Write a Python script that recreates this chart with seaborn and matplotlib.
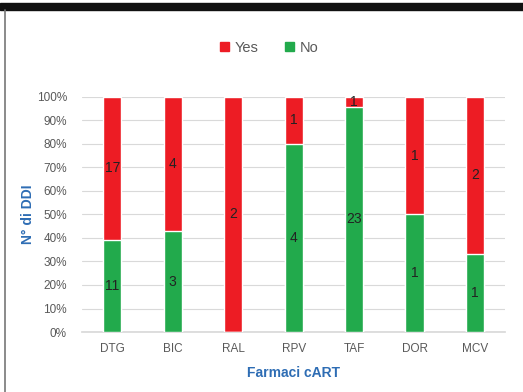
import pandas as pd
import matplotlib.pyplot as plt
import matplotlib.patches as mpatches
from matplotlib.lines import Line2D
import seaborn as sns

# ── DATA ────────────────────────────────────────────────────
drugs = ["DTG", "BIC", "RAL", "RPV", "TAF", "DOR", "MCV"]
yes_counts = [17, 4, 2, 1, 1, 1, 2]
no_counts = [11, 3, 0, 4, 23, 1, 1]
y_ticks = list(range(0, 101, 10))

RED = "#ED1C24"
GREEN = "#22AA4C"
BLUE = "#2E6DB4"
GREY = "#595959"

sns.set_theme(style="white")
plt.rcParams["font.family"] = ["Liberation Sans", "DejaVu Sans"]

df = pd.DataFrame({"drug": drugs, "yes": yes_counts, "no": no_counts})
df["total"] = df["yes"] + df["no"]
df["no_pct"] = df["no"] / df["total"] * 100
df["all_pct"] = 100.0

fig = plt.figure(figsize=(5.23, 3.92), dpi=100)
ax = fig.add_axes([0.157, 0.153, 0.809, 0.600])

# red full bar, green "No" share drawn on top
sns.barplot(data=df, x="drug", y="all_pct", color=RED, width=0.3,
            saturation=1, ax=ax, zorder=3)
sns.barplot(data=df, x="drug", y="no_pct", color=GREEN, width=0.3,
            saturation=1, ax=ax, zorder=4)

# count labels in the middle of each segment
for i, row in df.iterrows():
    if row["no"] > 0:
        ax.text(i, row["no_pct"] / 2, str(row["no"]), ha="center", va="center",
                fontsize=10, color="#222222", zorder=5)
    if row["yes"] > 0:
        ax.text(i, row["no_pct"] + (100 - row["no_pct"]) / 2, str(row["yes"]),
                ha="center", va="center", fontsize=10, color="#222222", zorder=5)

ax.set_xlim(-0.5, len(drugs) - 0.5)
ax.set_ylim(0, 100)
ax.set_yticks(y_ticks)
ax.set_yticklabels([f"{t}%" for t in y_ticks])
ax.yaxis.grid(True, color="#D9D9D9", linewidth=0.8, zorder=0)
ax.set_axisbelow(True)
for s in ["top", "right", "left"]:
    ax.spines[s].set_visible(False)
ax.spines["bottom"].set_color("#D9D9D9")
ax.tick_params(axis="both", length=0, colors=GREY, labelsize=8.5)
ax.tick_params(axis="y", pad=11)
ax.tick_params(axis="x", pad=8)

ax.set_xlabel("Farmaci cART", color=BLUE, fontweight="bold", fontsize=10, labelpad=8)
ax.set_ylabel("N° di DDI", color=BLUE, fontweight="bold", fontsize=10)
ax.yaxis.set_label_coords(-0.112, 0.5)

handles = [mpatches.Patch(color=RED, label="Yes"), mpatches.Patch(color=GREEN, label="No")]
fig.legend(handles=handles, loc="center", bbox_to_anchor=(0.515, 0.878), ncol=2,
           frameon=False, fontsize=10.5, handlelength=0.6, handleheight=0.6,
           handletextpad=0.4, columnspacing=1.8, labelcolor=GREY)

# frame decoration: black band on top, grey line on the left
fig.patches.append(mpatches.Rectangle((0, 0.974), 1, 0.019, transform=fig.transFigure,
                                      color="#111111", zorder=0))
fig.lines.append(Line2D([0.01, 0.01], [0, 0.974], transform=fig.transFigure,
                        color="#777777", linewidth=1.2))

fig.savefig("out.png", dpi=100)
